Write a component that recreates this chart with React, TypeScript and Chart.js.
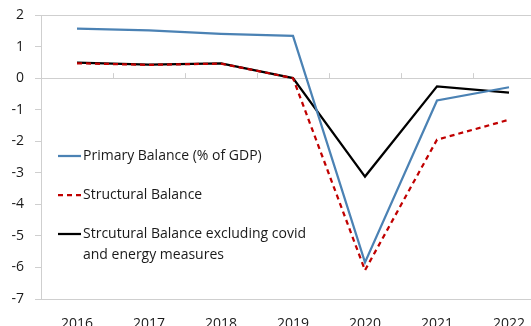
import React, { useEffect, useRef } from "react";
import { Chart, registerables } from "chart.js";

Chart.register(...registerables);

const years = ["2016", "2017", "2018", "2019", "2020", "2021", "2022"];
const primaryBalance = [1.57, 1.51, 1.4, 1.34, -5.84, -0.71, -0.29];
const structuralBalance = [0.47, 0.42, 0.46, 0.0, -6.09, -1.95, -1.32];
const structuralExclCovidEnergy = [0.49, 0.43, 0.47, 0.0, -3.12, -0.26, -0.46];

const legendItems = [
  { lines: ["Primary Balance (% of GDP)"], color: "#4b82b4", dash: [] as number[] },
  { lines: ["Structural Balance"], color: "#c00000", dash: [5, 4] },
  { lines: ["Strcutural Balance excluding covid", "and energy measures"], color: "#000000", dash: [] as number[] },
];

const FONT = '"Open Sans", "Noto Sans", sans-serif';
const GRID = "#cfcfcf";

// Category tick marks on the zero line and the in-plot legend
const overlay = {
  id: "overlay",
  afterDatasetsDraw(chart: any) {
    const { ctx, scales } = chart;
    const x = scales.x;
    const y = scales.y;
    const y0 = y.getPixelForValue(0);
    ctx.save();
    ctx.strokeStyle = GRID;
    ctx.lineWidth = 1;
    const step = x.getPixelForValue(1) - x.getPixelForValue(0);
    for (let i = 1; i < years.length; i++) {
      const px = Math.round(x.getPixelForValue(i) - step / 2) + 0.5;
      ctx.beginPath();
      ctx.moveTo(px, y0 - 5);
      ctx.lineTo(px, y0);
      ctx.stroke();
    }
    ctx.restore();
  },
  afterDraw(chart: any) {
    const { ctx } = chart;
    ctx.save();
    ctx.font = `14px ${FONT}`;
    ctx.textBaseline = "middle";
    ctx.fillStyle = "#1a1a1a";
    const rows = [156, 195, 234];
    legendItems.forEach((item, i) => {
      const yy = rows[i];
      ctx.beginPath();
      ctx.strokeStyle = item.color;
      ctx.lineWidth = 2.25;
      ctx.setLineDash(item.dash);
      ctx.moveTo(58, yy);
      ctx.lineTo(81, yy);
      ctx.stroke();
      ctx.setLineDash([]);
      item.lines.forEach((t, j) => {
        ctx.fillText(t, 83, yy + j * 21);
      });
    });
    ctx.restore();
  },
};

export default function App() {
  const ref = useRef<HTMLCanvasElement>(null);

  useEffect(() => {
    if (!ref.current) return;
    const chart = new Chart(ref.current, {
      type: "line",
      data: {
        labels: years,
        datasets: [
          {
            label: "Primary Balance (% of GDP)",
            data: primaryBalance,
            borderColor: "#4b82b4",
            borderWidth: 2.25,
            pointRadius: 0,
            tension: 0,
          },
          {
            label: "Structural Balance",
            data: structuralBalance,
            borderColor: "#c00000",
            borderWidth: 2.25,
            borderDash: [5, 4],
            pointRadius: 0,
            tension: 0,
          },
          {
            label: "Strcutural Balance excluding covid and energy measures",
            data: structuralExclCovidEnergy,
            borderColor: "#000000",
            borderWidth: 2.25,
            pointRadius: 0,
            tension: 0,
          },
        ],
      },
      options: {
        animation: false,
        responsive: false,
        maintainAspectRatio: false,
        layout: { padding: { top: 15, right: 15, bottom: 0, left: 0 } },
        plugins: { legend: { display: false }, tooltip: { enabled: false } },
        scales: {
          x: {
            type: "category",
            offset: true,
            grid: { display: false },
            border: { display: true, color: GRID, width: 1 },
            ticks: {
              color: "#1a1a1a",
              font: { family: FONT, size: 14 },
              padding: 9,
              maxRotation: 0,
            },
            afterFit: (s: any) => {
              s.height = 27;
              s.paddingLeft = 0;
              s.paddingRight = 0;
            },
          },
          y: {
            min: -7,
            max: 2,
            ticks: {
              stepSize: 1,
              color: "#1a1a1a",
              font: { family: FONT, size: 14 },
              padding: 11,
            },
            grid: {
              color: (c: any) =>
                c.tick && [2, 0, -7].includes(c.tick.value) ? GRID : "rgba(0,0,0,0)",
              tickColor: GRID,
              tickLength: 6,
              drawTicks: true,
            },
            border: { display: true, color: GRID, width: 1 },
            afterFit: (s: any) => {
              s.width = 41;
              s.paddingTop = 0;
              s.paddingBottom = 0;
            },
          },
        },
      },
      plugins: [overlay],
    });
    return () => chart.destroy();
  }, []);

  return (
    <div
      style={{
        position: "fixed",
        left: 0,
        top: 0,
        width: 531,
        height: 326,
        overflow: "hidden",
        background: "#fff",
      }}
    >
      <canvas ref={ref} width={560} height={326} style={{ display: "block" }} />
    </div>
  );
}
